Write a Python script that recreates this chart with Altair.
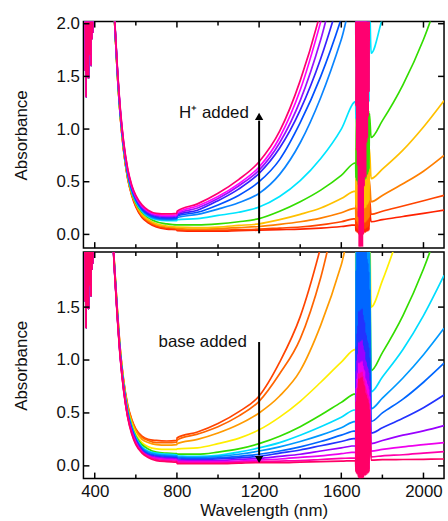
import altair as alt
import pandas as pd

# ---------------- data ----------------
W = [496, 510, 525, 540, 560, 580, 600, 630, 660, 700, 750, 799, 801, 900, 1000,
     1100, 1200, 1300, 1400, 1500, 1600, 1670, 1745, 1800, 1900, 2000, 2100]

# top panel: H+ added (red = first spectrum, pink = last)
top_colors = ["#ff2200", "#ff4400", "#ff7f00", "#ffc000", "#33dd00", "#00e5ff",
              "#0a84ff", "#0050ff", "#3322ff", "#9911ff", "#ff00ff", "#ff0070"]
top_red    = [2.04, 1.52, 1.10, 0.80, 0.53, 0.37, 0.26, 0.16, 0.11, .07, .05, .045, .035, .03, .03, .035, .04, .045, .05, .06, .075, .09, .12, .14, .17, .20, .23]
top_redor  = [2.04, 1.52, 1.10, 0.81, 0.54, 0.38, 0.27, 0.17, 0.12, .08, .06, .05, .045, .04, .04, .045, .05, .06, .07, .09, .12, .15, .19, .22, .27, .32, .37]
top_orange = [2.04, 1.53, 1.11, 0.81, 0.54, 0.38, 0.28, 0.18, 0.13, .09, .07, .06, .055, .05, .055, .065, .075, .095, .12, .155, .205, .25, .31, .37, .48, .60, .75]
top_yellow = [2.05, 1.53, 1.11, 0.82, 0.55, 0.39, 0.29, 0.19, 0.14, .10, .08, .07, .07, .065, .07, .085, .10, .14, .19, .25, .34, .41, .53, .62, .80, 1.02, 1.27]
top_green  = [2.05, 1.54, 1.12, 0.83, 0.56, 0.40, 0.30, 0.21, 0.16, .12, .10, .09, .09, .09, .10, .12, .15, .22, .31, .42, .56, .68, .92, 1.08, 1.42, 1.85, 2.4]
top_cyan   = [2.05, 1.55, 1.13, 0.84, 0.57, 0.41, 0.31, 0.22, 0.17, .14, .13, .13, .14, .15, .18, .21, .26, .36, .51, .72, 1.0, 1.26, 1.72, 2.05, 2.6, 3.2, 4.0]
top_dodger = [2.06, 1.56, 1.14, 0.85, 0.58, 0.42, 0.32, 0.23, 0.18, .15, .14, .145, .16, .19, .24, .30, .39, .57, .87, 1.3, 1.85, 2.3, 3.0, 3.5, 4.0, 4.5, 5.0]
top_blue   = [2.06, 1.56, 1.15, 0.86, 0.59, 0.43, 0.33, 0.24, 0.19, .16, .15, .155, .175, .21, .28, .37, .50, .71, 1.06, 1.5, 2.05, 2.5, 3.2, 3.7, 4.2, 4.7, 5.2]
top_bviol  = [2.06, 1.57, 1.15, 0.86, 0.60, 0.44, 0.34, 0.25, 0.20, .17, .16, .165, .185, .23, .32, .43, .58, .82, 1.18, 1.67, 2.3, 2.8, 3.4, 3.9, 4.4, 4.9, 5.4]
top_purple = [2.07, 1.57, 1.16, 0.87, 0.61, 0.45, 0.35, 0.26, 0.21, .18, .17, .175, .195, .25, .34, .46, .61, .87, 1.27, 1.85, 2.6, 3.0, 3.6, 4.1, 4.6, 5.1, 5.6]
top_magen  = [2.07, 1.58, 1.17, 0.88, 0.62, 0.46, 0.36, 0.27, 0.22, .19, .18, .185, .205, .27, .36, .48, .64, .92, 1.37, 2.02, 2.8, 3.2, 3.8, 4.3, 4.8, 5.3, 5.8]
top_pink   = [2.08, 1.59, 1.18, 0.89, 0.63, 0.47, 0.37, 0.28, 0.23, .20, .195, .20, .22, .29, .39, .52, .69, .98, 1.46, 2.12, 3.0, 3.4, 4.0, 4.5, 5.0, 5.5, 6.0]
top_curves = [top_red, top_redor, top_orange, top_yellow, top_green, top_cyan,
              top_dodger, top_blue, top_bviol, top_purple, top_magen, top_pink]
top_band_lo = [0.0, 0.03, 0.08, 0.2, 0.45, 1.0, 1.3, 1.4, 1.5, 1.5, 1.5, -0.12]
top_band_hi = [0.3, 0.45, 0.65, 1.0, 1.3, 2.6, 3.0, 3.0, 3.0, 3.0, 3.0, 3.0]

# bottom panel: base added (red-orange = first spectrum, pink = last)
bot_colors = ["#ff4400", "#ff6400", "#ff9a00", "#ffee00", "#33dd00", "#00ddff",
              "#0099ff", "#0066ff", "#2233ff", "#9900ff", "#ee00ee", "#ff00aa", "#ff0066"]
bot_ro1    = [1.90, 1.48, 1.09, 0.82, 0.58, 0.44, 0.35, 0.28, 0.25, .24, .235, .24, .265, .32, .40, .51, .66, .98, 1.41, 2.07, 2.9, 3.3, 3.8, 4.2, 4.6, 5.0, 5.4]
bot_ro2    = [1.90, 1.47, 1.08, 0.81, 0.57, 0.43, 0.34, 0.27, 0.24, .22, .22, .225, .245, .30, .37, .47, .61, .87, 1.20, 1.78, 2.6, 3.1, 3.6, 4.0, 4.4, 4.8, 5.2]
bot_orange = [1.89, 1.46, 1.07, 0.80, 0.56, 0.42, 0.33, 0.25, 0.22, .20, .195, .20, .21, .25, .31, .39, .50, .66, .90, 1.33, 1.90, 2.4, 3.0, 3.4, 3.8, 4.2, 4.6]
bot_yellow = [1.88, 1.45, 1.06, 0.79, 0.54, 0.40, 0.30, 0.22, 0.18, .16, .155, .155, .16, .17, .21, .26, .34, .46, .61, .79, .98, 1.10, 1.50, 1.75, 2.3, 2.9, 3.5]
bot_green  = [1.88, 1.44, 1.05, 0.78, 0.53, 0.38, 0.28, 0.20, 0.16, .13, .12, .115, .11, .11, .13, .16, .21, .28, .37, .48, .60, .68, .90, 1.07, 1.42, 1.86, 2.4]
bot_cyan   = [1.87, 1.44, 1.04, 0.77, 0.52, 0.37, 0.27, 0.18, 0.14, .12, .11, .105, .095, .09, .10, .13, .17, .22, .29, .37, .46, .53, .70, .84, 1.10, 1.42, 1.80]
bot_azure  = [1.87, 1.43, 1.04, 0.76, 0.51, 0.36, 0.26, 0.17, 0.13, .11, .10, .095, .085, .08, .09, .11, .14, .18, .23, .29, .36, .42, .54, .64, .83, 1.05, 1.30]
bot_blue   = [1.87, 1.43, 1.03, 0.75, 0.50, 0.35, 0.25, 0.16, 0.12, .10, .09, .085, .075, .07, .075, .09, .11, .14, .18, .23, .29, .33, .42, .50, .63, .79, .97]
bot_royal  = [1.86, 1.42, 1.03, 0.75, 0.49, 0.34, 0.24, 0.15, 0.11, .09, .08, .075, .065, .06, .065, .075, .09, .12, .15, .19, .23, .26, .31, .36, .45, .55, .67]
bot_violet = [1.86, 1.42, 1.02, 0.74, 0.48, 0.33, 0.23, 0.14, 0.10, .08, .07, .065, .055, .05, .05, .06, .07, .09, .11, .14, .17, .19, .21, .24, .29, .33, .38]
bot_magen  = [1.86, 1.41, 1.01, 0.73, 0.47, 0.32, 0.22, 0.13, 0.09, .07, .06, .055, .045, .04, .04, .045, .055, .065, .08, .095, .115, .13, .14, .155, .18, .20, .22]
bot_pkmag  = [1.85, 1.41, 1.01, 0.73, 0.47, 0.31, 0.21, 0.13, 0.09, .06, .05, .045, .035, .03, .03, .035, .04, .045, .05, .06, .07, .075, .085, .095, .105, .12, .135]
bot_pink   = [1.85, 1.40, 1.00, 0.72, 0.46, 0.30, 0.20, 0.12, 0.08, .05, .04, .035, .02, .02, .02, .025, .03, .03, .035, .04, .045, .05, .055, .058, .06, .062, .065]
bot_curves = [bot_ro1, bot_ro2, bot_orange, bot_yellow, bot_green, bot_cyan, bot_azure,
              bot_blue, bot_royal, bot_violet, bot_magen, bot_pkmag, bot_pink]
bot_band_lo = [1.3, 1.2, 1.0, 0.6, 0.3, 0.2, 0.15, 0.1, 0.05, 0.0, -0.05, -0.1, -0.12]
bot_band_hi = [3.0, 3.0, 3.0, 3.0, 3.0, 3.0, 3.0, 2.5, 1.5, 1.2, 1.0, 0.9, 0.85]

# noisy detector regions (read as a saturated band)
left_w = [352, 354, 356, 358, 360, 362, 364, 366, 368, 370, 372, 374, 376, 378, 380, 382, 384, 386, 388, 390, 392]
left_v = [3.0, 1.55, 3.0, 1.3, 3.0, 1.5, 3.0, 1.62, 3.0, 1.48, 3.0, 1.7, 3.0, 1.75, 3.0, 1.6, 3.0, 1.85, 3.0, 1.92, 3.0]
pre_w = [396, 450]
pre_v = [3.5, 3.5]
band_w = [1671, 1673, 1675, 1677, 1679, 1681, 1683, 1685, 1687, 1689, 1691, 1693, 1695, 1697, 1699, 1701, 1703,
          1705, 1707, 1709, 1711, 1713, 1715, 1717, 1719, 1721, 1723, 1725, 1727, 1729, 1731, 1733, 1735, 1737]
band_depth = [0.62, 0.70, 0.74, 0.80, 0.78, 0.86, 0.92, 0.97, 1.0, 0.95, 1.0, 0.98, 1.0, 0.96, 1.0, 0.99, 1.0,
              0.94, 0.97, 0.9, 0.86, 0.88, 0.82, 0.80, 0.84, 0.78, 0.76, 0.74, 0.75, 0.72, 0.70, 0.68, 0.64, 0.6]

x_major = [400, 800, 1200, 1600, 2000]
x_minor = [600, 1000, 1400, 1800]

# annotations
top_arrow = {"w": [1200], "a": [0.01], "a2": [1.08], "tip": [1.12]}
top_label = {"w": [1150], "a": [1.15], "t": ["H\u207a added"]}
bot_arrow = {"w": [1200], "a": [0.10], "a2": [1.17], "tip": [0.06]}
bot_label = {"w": [1140], "a": [1.17], "t": ["base added"]}

FONT = "Liberation Sans"
PW, PH = 363, 228


def curve_frame(vals, lo, hi):
    rows = []
    i1670, i1745 = W.index(1670), W.index(1745)
    for w, v in zip(left_w, left_v):
        rows.append({"w": w, "a": v})
    for w, v in zip(pre_w, pre_v):
        rows.append({"w": w, "a": v})
    for w, v in zip(W, vals):
        rows.append({"w": w, "a": v})
    v0, v1 = vals[i1670], vals[i1745]
    for i, (w, d) in enumerate(zip(band_w, band_depth)):
        v = v0 if w < 1704 else v1
        a = v - d * (v - lo) if i % 2 == 0 else v + d * (hi - v)
        rows.append({"w": w, "a": a})
    return pd.DataFrame(rows).sort_values("w").reset_index(drop=True)


def panel(curves, colors, lo, hi, ydom, yvals, show_x, arrow, label, arrow_shape):
    xs = alt.Scale(domain=[345, 2100], nice=False, zero=False)
    if show_x:
        xaxis = alt.Axis(values=x_major, format="d", ticks=False, domain=False, grid=False,
                         labelFontSize=17, labelPadding=5, title="Wavelength (nm)",
                         titleFontSize=17, titleFontWeight="normal", titlePadding=3)
    else:
        xaxis = None
    ys = alt.Scale(domain=ydom, nice=False, zero=False)
    x_enc = alt.X("w:Q", scale=xs, axis=xaxis)
    y_enc = alt.Y("a:Q", scale=ys,
                  axis=alt.Axis(values=yvals, format=".1f", ticks=False, domain=False, grid=False,
                                labelFontSize=17, labelPadding=4, title="Absorbance",
                                titleFontSize=17, titleFontWeight="normal", titlePadding=26))

    layers = []
    # one layer per spectrum, drawn in measurement order
    for k, vals in enumerate(curves):
        df = curve_frame(vals, lo[k], hi[k])
        layers.append(alt.Chart(df).mark_line(clip=True, strokeWidth=1.7, interpolate="monotone",
                                              color=colors[k]).encode(
            x=x_enc, y=y_enc, order=alt.Order("w:Q")))

    # inward ticks
    maj = pd.DataFrame({"w": x_major})
    mnr = pd.DataFrame({"w": x_minor})
    yt = pd.DataFrame({"a": yvals})
    layers.append(alt.Chart(maj).mark_rule(color="black", strokeWidth=1.5).encode(
        x=x_enc, y=alt.value(0), y2=alt.value(6)))
    layers.append(alt.Chart(mnr).mark_rule(color="black", strokeWidth=1.5).encode(
        x=x_enc, y=alt.value(0), y2=alt.value(4)))
    layers.append(alt.Chart(maj).mark_rule(color="black", strokeWidth=1.5).encode(
        x=x_enc, y=alt.value(PH - 6), y2=alt.value(PH)))
    layers.append(alt.Chart(mnr).mark_rule(color="black", strokeWidth=1.5).encode(
        x=x_enc, y=alt.value(PH - 4), y2=alt.value(PH)))
    layers.append(alt.Chart(yt).mark_rule(color="black", strokeWidth=1.5).encode(
        y=y_enc, x=alt.value(0), x2=alt.value(6)))
    layers.append(alt.Chart(yt).mark_rule(color="black", strokeWidth=1.5).encode(
        y=y_enc, x=alt.value(PW - 6), x2=alt.value(PW)))

    ar = pd.DataFrame(arrow)
    layers.append(alt.Chart(ar).mark_rule(color="black", strokeWidth=2).encode(
        x=x_enc, y=y_enc, y2="a2:Q"))
    layers.append(alt.Chart(ar).mark_point(shape=arrow_shape, filled=True, size=70,
                                           color="black", opacity=1).encode(
        x=x_enc, y=alt.Y("tip:Q", scale=ys)))
    lb = pd.DataFrame(label)
    layers.append(alt.Chart(lb).mark_text(align="right", baseline="middle", fontSize=17,
                                          font=FONT, color="#111111").encode(
        x=x_enc, y=y_enc, text="t:N"))
    return alt.layer(*layers).properties(width=PW, height=PH)


top = panel(top_curves, top_colors, top_band_lo, top_band_hi, [-0.13, 2.02],
            [0, 0.5, 1.0, 1.5, 2.0], False, top_arrow, top_label, "triangle-up")
bottom = panel(bot_curves, bot_colors, bot_band_lo, bot_band_hi, [-0.12, 2.02],
               [0, 0.5, 1.0, 1.5], True, bot_arrow, bot_label, "triangle-down")

chart = alt.vconcat(top, bottom, spacing=0).properties(
    padding={"left": 11, "top": 12, "right": 2, "bottom": 5}
).configure_view(stroke="black", strokeWidth=1.5).configure_axis(
    labelFont=FONT, titleFont=FONT, labelColor="#111111", titleColor="#111111"
).configure_concat(spacing=0)

chart.save("out.html", embed_options={"renderer": "svg", "actions": False})
